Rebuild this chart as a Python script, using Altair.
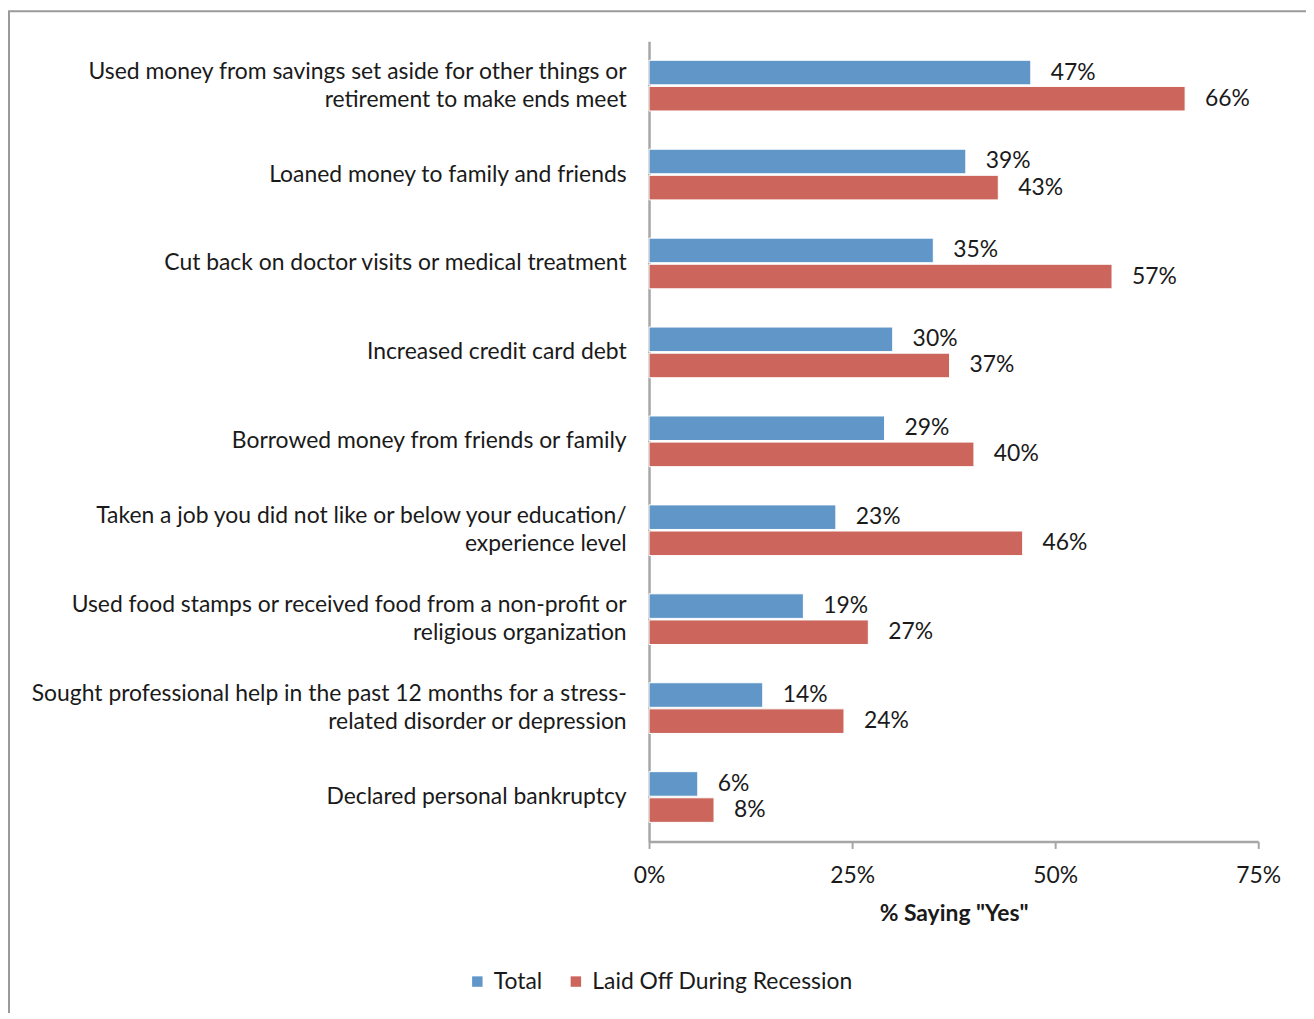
import altair as alt
import pandas as pd

FONT = "Lato"
TEXT_COLOR = "#1a1a1a"
FS = 23

categories = [
    "Used money from savings set aside for other things or|retirement to make ends meet",
    "Loaned money to family and friends",
    "Cut back on doctor visits or medical treatment",
    "Increased credit card debt",
    "Borrowed money from friends or family",
    "Taken a job you did not like or below your education/|experience level",
    "Used food stamps or received food from a non-profit or|religious organization",
    "Sought professional help in the past 12 months for a stress-|related disorder or depression",
    "Declared personal bankruptcy",
]
total = [47, 39, 35, 30, 29, 23, 19, 14, 6]
laid_off = [66, 43, 57, 37, 40, 46, 27, 24, 8]
series = ["Total", "Laid Off During Recession"]
colors = ["#6096C8", "#CC655C"]

rows = []
for c, t, l in zip(categories, total, laid_off):
    rows.append({"cat": c, "series": series[0], "pct": t / 100})
    rows.append({"cat": c, "series": series[1], "pct": l / 100})
df = pd.DataFrame(rows)

PAD_LEFT = 644
PAD_TOP = 31

base = alt.Chart(df).encode(
    y=alt.Y(
        "cat:N",
        sort=categories,
        scale=alt.Scale(paddingInner=0.43, paddingOuter=0.215),
        axis=alt.Axis(
            title=None,
            labelExpr="split(datum.label, '|')",
            labelFontSize=FS,
            labelFont=FONT,
            labelColor=TEXT_COLOR,
            labelLineHeight=28,
            labelPadding=23,
            labelLimit=800,
            labelOffset={
                "condition": {"test": "indexof(datum.value, '|') >= 0", "value": -14},
                "value": 0,
            },
            ticks=False,
            domainColor="#A6A6A6",
            domainWidth=2.5,
            grid=False,
        ),
    ),
    yOffset=alt.YOffset("series:N", sort=series, scale=alt.Scale(paddingInner=0.06)),
)

bars = base.mark_bar(stroke="white", strokeWidth=1).encode(
    x=alt.X(
        "pct:Q",
        scale=alt.Scale(domain=[0, 0.75], nice=False),
        axis=alt.Axis(
            title='% Saying "Yes"',
            titleFont=FONT,
            titleFontSize=FS,
            titleFontWeight="bold",
            titleColor=TEXT_COLOR,
            titlePadding=15,
            values=[0, 0.25, 0.5, 0.75],
            format=".0%",
            labelFont=FONT,
            labelFontSize=FS,
            labelColor=TEXT_COLOR,
            labelFlush=False,
            labelPadding=16,
            tickSize=7,
            tickWidth=2,
            tickColor="#A6A6A6",
            domainColor="#A6A6A6",
            domainWidth=2.5,
            grid=False,
        ),
    ),
    color=alt.Color(
        "series:N",
        sort=series,
        scale=alt.Scale(domain=series, range=colors),
        legend=alt.Legend(
            title=None,
            orient="none",
            legendX=-184,
            legendY=933,
            direction="horizontal",
            symbolType="square",
            symbolSize=110,
            symbolStrokeWidth=0,
            labelFont=FONT,
            labelFontSize=FS,
            labelColor=TEXT_COLOR,
            labelLimit=600,
            labelOffset=5,
            columnPadding=22,
        ),
    ),
)

labels = base.mark_text(
    align="left", baseline="middle", dx=20, fontSize=FS, font=FONT, color=TEXT_COLOR
).encode(
    x=alt.X("pct:Q"),
    text=alt.Text("pct:Q", format=".0%"),
)

frame = alt.Chart(alt.Data(values=[{"f": 1}])).mark_rect(
    fillOpacity=0, stroke="#9A9A9A", strokeWidth=2
).encode(
    x=alt.value(-PAD_LEFT + 1),
    y=alt.value(-PAD_TOP + 1),
    x2=alt.value(800),
    y2=alt.value(1300),
)

chart = (
    alt.layer(frame, bars, labels)
    .properties(
        width=612,
        height=804,
        autosize=alt.AutoSizeParams(type="none"),
        padding={"left": PAD_LEFT, "top": PAD_TOP, "right": 48, "bottom": 170},
    )
    .configure_view(stroke=None)
)

chart.save("out.html", embed_options={"renderer": "svg", "actions": False})
